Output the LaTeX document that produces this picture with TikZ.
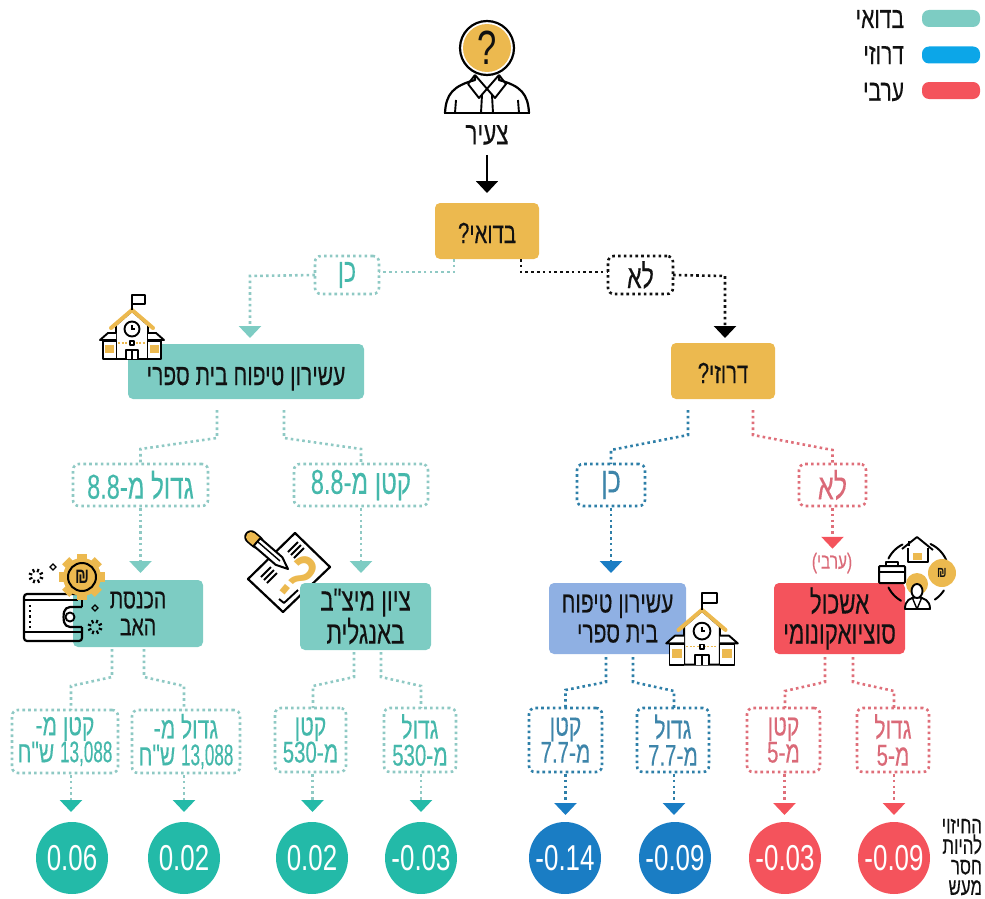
\documentclass[tikz,border=0pt]{standalone}
\usepackage{fontspec}
\usetikzlibrary{arrows.meta,calc}
\TeXXeTstate=1
\newfontfamily\hb[Script=Hebrew,FakeStretch=0.7,FakeBold=0.25]{Liberation Sans}
\newfontfamily\numnarrow[FakeStretch=0.57,FakeBold=0.25]{Liberation Sans}
\newfontfamily\numwide[FakeStretch=0.68,FakeBold=0.25]{Liberation Sans}
\setmainfont[FakeStretch=0.72]{Liberation Sans}
\newcommand\heb[1]{\beginR #1\endR}
\newcommand\ltr[1]{\beginL{\numwide #1}\endL}
\newcommand\ltrn[1]{\beginL{\numnarrow #1}\endL}
\newcommand\fs[2]{\fontsize{#1}{#2}\selectfont}
\definecolor{tealbox}{HTML}{7DCCC3}
\definecolor{tealdot}{HTML}{8FC9C4}
\definecolor{tealtxt}{HTML}{45B8AB}
\definecolor{tealcirc}{HTML}{23BAA8}
\definecolor{bluedot}{HTML}{2E7FA8}
\definecolor{bluetxt}{HTML}{3E85AA}
\definecolor{bluetip}{HTML}{1A7DC4}
\definecolor{bluebox}{HTML}{8FB0E3}
\definecolor{bluelegend}{HTML}{0CA6E8}
\definecolor{redbox}{HTML}{F4535C}
\definecolor{reddot}{HTML}{DF6F7A}
\definecolor{redtxt}{HTML}{DA6A78}
\definecolor{goldbox}{HTML}{ECB94F}
\definecolor{inkc}{HTML}{111111}
\tikzset{
  x=1pt,y=-1pt,
  every node/.style={inner sep=0pt,outer sep=0pt,align=center,text=inkc},
  solidbox/.style={rounded corners=5pt,minimum width=#1},
  tealdec/.style={solidbox=#1,fill=tealbox,font=\hb\fs{30}{30}},
  golddec/.style={solidbox=#1,fill=goldbox,minimum height=56pt,font=\hb\fs{29}{30},text height=24pt,text depth=0pt},
  dotbox/.style={rounded corners=6pt,line width=2.6pt,dash pattern=on 2.6pt off 3.2pt,font=\hb\fs{30}{27}},
  tlab/.style={dotbox,draw=tealdot,text=tealtxt},
  blab/.style={dotbox,draw=bluedot,text=bluetxt},
  rlab/.style={dotbox,draw=reddot,text=redtxt},
  klab/.style={dotbox,draw=inkc,text=inkc},
  dotline/.style={line width=2.6pt,dash pattern=on 2.6pt off 3.2pt},
  tline/.style={dotline,draw=tealdot,-{Triangle[width=22pt,length=12pt,color=tealbox]}},
  tlinedark/.style={dotline,draw=tealdot,-{Triangle[width=22pt,length=12pt,color=tealcirc]}},
  tplain/.style={dotline,draw=tealdot},
  bline/.style={dotline,draw=bluedot,-{Triangle[width=22pt,length=12pt,color=bluetip]}},
  rline/.style={dotline,draw=reddot,-{Triangle[width=22pt,length=12pt,color=redbox]}},
  kline/.style={dotline,draw=inkc,-{Triangle[width=22pt,length=12pt,color=black]}},
  result/.style={circle,minimum size=72pt,fill=#1,text=white,font=\fs{36}{40}},
  legbar/.style={rounded corners=7pt,minimum width=58pt,minimum height=17pt,fill=#1},
  legtxt/.style={anchor=east,font=\hb\fs{30}{30}},
  iconline/.style={line width=1.9pt,draw=black,line join=round},
  school/.pic={
    \draw[iconline,fill=white] (-16,64) -- (-16,30) -- (0,16) -- (16,30) -- (16,64) -- cycle;
    \draw[iconline,fill=white] (-16,64) -- (-29,64) -- (-29,46) -- (-16,46);
    \draw[iconline,fill=white] (16,64) -- (29,64) -- (29,46) -- (16,46);
    \draw[iconline,fill=white] (-16,38) -- (-24,38) -- (-32,45) -- (-16,45);
    \draw[iconline,fill=white] (16,38) -- (24,38) -- (32,45) -- (16,45);
    \fill[goldbox] (-27,50) rectangle (-18,58);
    \fill[goldbox] (18,50) rectangle (27,58);
    \draw[goldbox,line width=1.4pt,dash pattern=on 2pt off 1.5pt] (-14,48) -- (14,48);
    \draw[iconline,fill=white] (-2,46) rectangle (2,50);
    \draw[iconline,fill=white] (-6,64) -- (-6,55) -- (6,55) -- (6,64);
    \draw[iconline] (0,55) -- (0,64);
    \draw[iconline,fill=white] (0,34) circle[radius=7.5];
    \draw[line width=1.2pt] (0,30) -- (0,34) -- (3,34);
    \draw[goldbox,line width=4pt,line cap=round,line join=round] (-21,33) -- (0,15) -- (21,33);
    \draw[iconline] (0,15) -- (0,0) -- (13,0) -- (13,9) -- (0,9);
  },
  person/.pic={
    \draw[iconline,line width=2.2pt,fill=white] (0,26) circle[radius=27];
    \fill[goldbox] (0,26) circle[radius=24];
    \node at (0,26) {\fs{48}{48}?};
    \draw[iconline,line width=2.2pt] (-42,91) .. controls (-41,72) and (-34,64) .. (-12,58) -- (-12,53);
    \draw[iconline,line width=2.2pt] (42,91) .. controls (41,72) and (34,64) .. (12,58) -- (12,53);
    \draw[iconline,line width=2.2pt] (-43,91) -- (43,91);
    \draw[iconline] (-12,53) -- (-19,62) -- (-8,76) -- (12,53);
    \draw[iconline] (12,53) -- (19,62) -- (8,76) -- (-12,53);
    \draw[iconline] (-5,73) -- (-6,91) (5,73) -- (6,91);
    \draw[iconline] (-31,78) -- (-32,91) (31,78) -- (32,91);
  },
  walleticon/.pic={
    \draw[iconline,line width=2.2pt,rounded corners=3pt] (58,0) -- (0,0) -- (0,47) -- (58,47) -- (58,33);
    \draw[iconline,line width=2.2pt] (0,6) -- (54,6) (0,38) -- (58,38);
    \draw[iconline,line width=2.2pt] (58,0) -- (58,13);
    \draw[iconline,line width=2.2pt,rounded corners=5pt] (58,13) -- (41,13) -- (39,23) -- (41,33) -- (58,33);
    \draw[iconline] (46,23) circle[radius=4.5];
    \draw[iconline,line width=2.2pt,dash pattern=on 2.2pt off 3pt] (6,11) -- (6,36);
  },
  sparkle/.pic={
    \foreach \a in {0,45,...,315}{\draw[line width=2pt] (\a+20:4) -- (\a+20:7.5);}
  },
  diam/.pic={\draw[line width=1.4pt] (0,-3) -- (3,0) -- (0,3) -- (-3,0) -- cycle;},
}
\begin{document}
\begin{tikzpicture}
\useasboundingbox (0,0) rectangle (985,899);
% pencil + doc sit behind their box
\draw[iconline,line width=2.2pt,fill=white] (295,533) -- (330,567) -- (283,612) -- (248,579) -- cycle;
\draw[iconline,line width=2pt] (288,552) -- (298,542) (291,555) -- (301,545) (294,558) -- (304,548);
\draw[iconline,line width=2pt] (261,577) -- (271,567) (264,580) -- (274,570) (267,583) -- (277,573);
\draw[iconline] (279,599) -- (284,603) -- (298,590);
\node[rotate=-40,text=goldbox,font=\bfseries\fs{64}{64}] (qm) at (298,576) {?};
\draw[line width=13.5pt,line cap=round,draw=black] (251,537) -- (257,542);
\draw[line width=10pt,line cap=round,draw=goldbox] (251,537) -- (257,542);
\draw[iconline,line width=2pt,fill=white] (260.3,538.2) -- (282.3,557.2) -- (288,569) -- (275.7,564.8) -- (253.7,545.8) -- cycle;
\draw[iconline,line width=1.4pt] (258,542) -- (280,561);
% legend
\node[legbar=tealbox] (lg1) at (951,18.5) {};
\node[legbar=bluelegend] (lg2) at (951,55) {};
\node[legbar=redbox] (lg3) at (951,90.5) {};
\node[legtxt] (lt1) at (904,19) {\heb{בדואי}};
\node[legtxt] (lt2) at (904,55) {\heb{דרוזי}};
\node[legtxt] (lt3) at (904,92) {\heb{ערבי}};
% top
\pic at (487,22) {person};
\node[font=\hb\fs{32}{32}] (young) at (487,135) {\heb{צעיר}};
\node[golddec=104pt] (bed) at (487,231) {\heb{בדואי?}};
\node[golddec=104pt] (dru) at (723,371) {\heb{דרוזי?}};
\draw[-{Triangle[width=22pt,length=12pt,color=black]},line width=2pt,draw=black] ([yshift=-10pt]young.south) -- ([yshift=10pt]bed.north);
% first labels
\node[tlab,minimum width=64pt,minimum height=38pt,font=\hb\fs{33}{33}] (yes1) at (347,275) {\heb{כן}};
\node[klab,minimum width=65pt,minimum height=38pt,font=\hb\fs{33}{33}] (no1) at (640.5,275) {\heb{לא}};
\node[tealdec=236pt,minimum height=55pt,text height=27pt,text depth=0pt] (edu) at (246,371.5) {\heb{עשירון טיפוח בית ספרי}};
\draw[tplain] ([xshift=-33pt]bed.south) -- ++(0,13) -- (yes1.east |- 0,272);
\draw[tline] (yes1.west) -- (250,276) -- ([xshift=4pt,yshift=6pt]edu.north);
\draw[dotline,draw=inkc] ([xshift=34pt]bed.south) -- ++(0,13) -- (no1.west |- 0,272);
\draw[kline] (no1.east) -- (725,276) -- ([xshift=2pt,yshift=5pt]dru.north);
% second labels
\node[tlab,minimum width=135pt,minimum height=42pt,font=\hb\fs{34.5}{36}] (edubig) at (140.5,485) {\heb{גדול מ-\ltr{8.8}}};
\node[tlab,minimum width=134pt,minimum height=42pt,font=\hb\fs{34.5}{36}] (edusmall) at (361,485) {\heb{קטן מ-\ltr{8.8}}};
\node[blab,minimum width=68pt,minimum height=42pt,font=\hb\fs{36}{36}] (druyes) at (611,485) {\heb{כן}};
\node[rlab,minimum width=67pt,minimum height=42pt,font=\hb\fs{36}{36}] (druno) at (832.5,485) {\heb{לא}};
% second level boxes
\node[tealdec=130pt,minimum height=67pt,font=\hb\fs{28}{27}] (income) at (138,613.5) {\heb{הכנסת}\\\heb{האב}};
\node[tealdec=131pt,minimum height=67pt,font=\hb\fs{32}{28}] (meitzav) at (365.5,616.5) {\heb{ציון מיצ"ב}\\\heb{באנגלית}};
\node[solidbox=137pt,fill=bluebox,minimum height=71pt,font=\hb\fs{30}{30}] (edu2) at (617.5,618.5) {\heb{עשירון טיפוח}\\\heb{בית ספרי}};
\node[solidbox=131pt,fill=redbox,minimum height=71pt,font=\hb\fs{32}{30}] (ses) at (839.5,618.5) {\heb{אשכול}\\\heb{סוציואקונומי}};
\node[font=\hb\fs{22}{22},text=redtxt] (arabnote) at (832,563) {\heb{(ערבי)}};
% branches level 2
\draw[tplain] ([xshift=-29pt,yshift=-11pt]edu.south) -- ++(0,28) -- ([yshift=15pt]edubig.north) -- (edubig.north);
\draw[tplain] ([xshift=38pt,yshift=-11pt]edu.south) -- ++(0,28) -- ([yshift=15pt]edusmall.north) -- (edusmall.north);
\draw[bline,-] ([xshift=-35pt,yshift=-11pt]dru.south) -- ++(0,25) -- ([yshift=14pt]druyes.north) -- (druyes.north);
\draw[rline,-] ([xshift=30pt,yshift=-11pt]dru.south) -- ++(0,25) -- ([yshift=14pt]druno.north) -- (druno.north);
\draw[tline,shorten <=2pt] (edubig.south) -- ([yshift=7pt]edubig.south |- income.north);
\draw[tline,shorten <=2pt] (edusmall.south) -- ([yshift=10pt]edusmall.south |- meitzav.north);
\draw[bline,shorten <=2pt] (druyes.south) -- ([yshift=10pt]druyes.south |- edu2.north);
\draw[rline,shorten <=2pt] (druno.south) -- ([yshift=4pt]druno.south |- arabnote.north);
% third labels
\node[tlab,minimum width=106pt,minimum height=63pt] (l1) at (65,741.5) {\heb{קטן מ-}\\\heb{\ltrn{13,088} ש"ח}};
\node[tlab,minimum width=108pt,minimum height=63pt] (l2) at (186,741.5) {\heb{גדול מ-}\\\heb{\ltrn{13,088} ש"ח}};
\node[tlab,minimum width=71pt,minimum height=64pt] (l3) at (310.5,740) {\heb{קטן}\\\heb{מ-\ltr{530}}};
\node[tlab,minimum width=72pt,minimum height=64pt] (l4) at (420,740) {\heb{גדול}\\\heb{מ-\ltr{530}}};
\node[blab,minimum width=73pt,minimum height=64pt] (l5) at (565.5,740) {\heb{קטן}\\\heb{מ-\ltr{7.7}}};
\node[blab,minimum width=72pt,minimum height=64pt] (l6) at (673,740) {\heb{גדול}\\\heb{מ-\ltr{7.7}}};
\node[rlab,minimum width=73pt,minimum height=64pt] (l7) at (783.5,740) {\heb{קטן}\\\heb{מ-\ltr{5}}};
\node[rlab,minimum width=72pt,minimum height=64pt] (l8) at (893,740) {\heb{גדול}\\\heb{מ-\ltr{5}}};
% circles
\node[result=tealcirc] (c1) at (72,858) {0.06};
\node[result=tealcirc] (c2) at (184,858) {0.02};
\node[result=tealcirc] (c3) at (312,858) {0.02};
\node[result=tealcirc] (c4) at (421,858) {-0.03};
\node[result=bluetip] (c5) at (565,858) {-0.14};
\node[result=bluetip] (c6) at (675,858) {-0.09};
\node[result=redbox] (c7) at (785,858) {-0.03};
\node[result=redbox] (c8) at (894,858) {-0.09};
% branches level 3
\draw[tplain] ([xshift=-26pt,yshift=-2pt]income.south) -- ++(0,28) -- ([xshift=6pt,yshift=24pt]l1.north) -- ([xshift=6pt]l1.north);
\draw[tplain] ([xshift=6pt,yshift=-2pt]income.south) -- ++(0,28) -- ([xshift=-2pt,yshift=24pt]l2.north) -- ([xshift=-2pt]l2.north);
\draw[tplain] ([xshift=-11.5pt,yshift=-2pt]meitzav.south) -- ++(0,25) -- ([xshift=2.5pt,yshift=22pt]l3.north) -- ([xshift=2.5pt]l3.north);
\draw[tplain] ([xshift=15.5pt,yshift=-2pt]meitzav.south) -- ++(0,25) -- ([xshift=1pt,yshift=22pt]l4.north) -- ([xshift=1pt]l4.north);
\draw[bline,-] ([xshift=-11.5pt,yshift=-3pt]edu2.south) -- ++(0,25) -- ([yshift=18pt]l5.north) -- (l5.north);
\draw[bline,-] ([xshift=15.5pt,yshift=-3pt]edu2.south) -- ++(0,25) -- ([xshift=1pt,yshift=17pt]l6.north) -- ([xshift=1pt]l6.north);
\draw[rline,-] ([xshift=-14.5pt,yshift=-3pt]ses.south) -- ++(0,25) -- ([xshift=1.5pt,yshift=17pt]l7.north) -- ([xshift=1.5pt]l7.north);
\draw[rline,-] ([xshift=13.5pt,yshift=-3pt]ses.south) -- ++(0,25) -- ([xshift=1pt,yshift=17pt]l8.north) -- ([xshift=1pt]l8.north);
\draw[tlinedark,shorten <=2pt] ([xshift=6pt]l1.south) -- ([xshift=6pt,yshift=10pt]l1.south |- c1.north);
\draw[tlinedark,shorten <=2pt] ([xshift=-2pt]l2.south) -- ([xshift=-2pt,yshift=10pt]l2.south |- c2.north);
\draw[tlinedark,shorten <=2pt] ([xshift=2pt]l3.south) -- ([xshift=2pt,yshift=10pt]l3.south |- c3.north);
\draw[tlinedark,shorten <=2pt] ([xshift=1pt]l4.south) -- ([xshift=1pt,yshift=10pt]l4.south |- c4.north);
\draw[bline,shorten <=2pt] (l5.south) -- ([yshift=7pt]l5.south |- c5.north);
\draw[bline,shorten <=2pt] ([xshift=1pt]l6.south) -- ([xshift=1pt,yshift=7pt]l6.south |- c6.north);
\draw[rline,shorten <=2pt] ([xshift=1pt]l7.south) -- ([xshift=1pt,yshift=7pt]l7.south |- c7.north);
\draw[rline,shorten <=2pt] ([xshift=1pt]l8.south) -- ([xshift=1pt,yshift=7pt]l8.south |- c8.north);
% side note
\node[anchor=east,align=right,font=\hb\fs{24}{20.5}] (note) at (982,857) {\heb{החיזוי}\\\heb{להיות}\\\heb{חסר}\\\heb{מעש}};
% icons
\pic at (132,295) {school};
\pic[scale=1.12] at (702,593) {school};
% wallet + gear
\pic at (24,594) {walleticon};
\foreach \a in {0,45,...,315}{\fill[goldbox] (82,577) ++(\a:17) ++(\a+90:5) -- ++(\a:6) -- ++(\a-90:10) -- ++(\a-180:6) -- cycle;}
\fill[goldbox] (82,577) circle[radius=19];
\draw[iconline,line width=2pt] (82,577) circle[radius=14];
\node[font=\bfseries\fs{22}{22}] (shek1) at (82,577) {\char"20AA};
\pic at (36,576) {sparkle};
\pic at (95,627) {sparkle};
\pic at (53,567) {diam};
\pic at (95,608) {diam};
% economy icon
\foreach \from/\to in {-153/-117,-65/-24,120/153,33/56}{
  \draw[iconline,line width=2pt,line cap=round] plot[domain=\from:\to,samples=9] ({917+32*cos(\x)},{573+32*sin(\x)});
}
\draw[iconline,fill=white] (908,548) -- (908,562) -- (928,562) -- (928,548);
\fill[goldbox] (913,553) rectangle (922,560);
\draw[iconline] (902,549) -- (917,537) -- (933,550);
\draw[iconline] (909,541) -- (909,546);
\draw[iconline,line width=2pt,rounded corners=1pt,fill=white] (879,566) rectangle (905,583);
\draw[iconline,line width=1.6pt] (886,566) -- (886,562) -- (898,562) -- (898,566);
\draw[iconline,line width=1.4pt] (879,572) -- (905,572);
\fill[goldbox] (942,573) circle[radius=14];
\node[font=\bfseries\fs{15}{15}] (shek2) at (942,573) {\char"20AA};
\fill[goldbox] (917,584) circle[radius=11];
\draw[iconline,fill=white] (905,609) .. controls (905,600) and (910,598) .. (917,597) .. controls (924,598) and (930,600) .. (930,609) -- cycle;
\draw[iconline,fill=white] (917,591) ellipse[x radius=5.5,y radius=7];
\draw[iconline,line width=1.4pt] (912,597) -- (917,609) -- (922,597);
\end{tikzpicture}
\end{document}
